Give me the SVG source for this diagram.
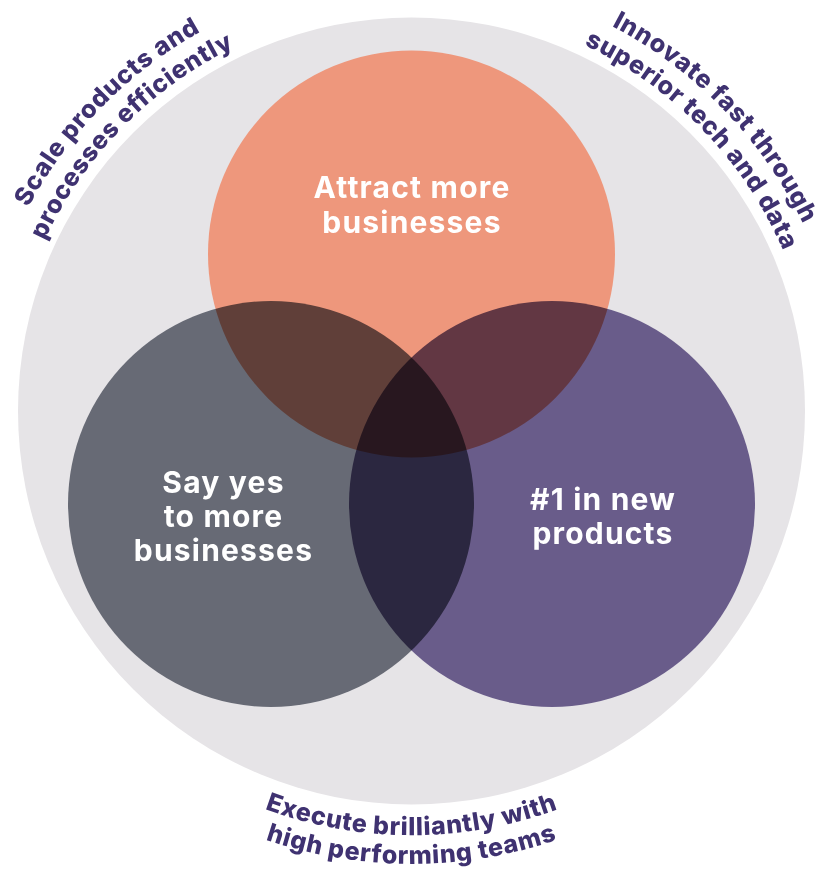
<svg xmlns="http://www.w3.org/2000/svg" xmlns:xlink="http://www.w3.org/1999/xlink" width="822" height="872" viewBox="0 0 822 872">
  <style>
    .ring-label { font-family: Inter, "Liberation Sans", sans-serif; font-weight: 800; font-size: 25px; letter-spacing: 0.7px; fill: #3f3271; }
    .venn-label { font-family: Inter, "Liberation Sans", sans-serif; font-weight: 700; font-size: 30px; letter-spacing: 1.2px; fill: #ffffff; text-anchor: middle; }
    .venn { mix-blend-mode: multiply; }
  </style>
  <defs>
    <!-- arcs around the outer ring, centred on the top / bottom of the ring -->
    <path id="arc-top-outer" d="M -18.3 335.2 A 437 437 0 0 1 841.3 335.2"/>
    <path id="arc-top-inner" d="M 12.7 340.7 A 405 405 0 0 1 810.3 340.7"/>
    <path id="arc-bottom-inner" d="M -6.1 484.6 A 424 424 0 0 0 829.1 484.6"/>
    <path id="arc-bottom-outer" d="M -34.6 489.6 A 453 453 0 0 0 857.6 489.6"/>
  </defs>

  <rect width="822" height="872" fill="#ffffff"/>

  <!-- outer ring -->
  <g id="ring">
    <circle cx="411.5" cy="411" r="393.5" fill="#e6e4e7"/>
  </g>

  <!-- three overlapping circles, blended together -->
  <g id="venn" style="isolation:isolate">
    <g id="node-attract">
      <circle class="venn" cx="411.5" cy="254" r="203.5" fill="#ee977c"/>
    </g>
    <g id="node-say-yes">
      <circle class="venn" cx="271" cy="504" r="203" fill="#676a75"/>
    </g>
    <g id="node-new-products">
      <circle class="venn" cx="552" cy="504" r="203" fill="#695c8a"/>
    </g>
  </g>

  <g id="venn-labels">
    <text class="venn-label" x="412" y="198">Attract more</text>
    <text class="venn-label" x="412" y="232.5">businesses</text>
    <text class="venn-label" x="223.5" y="492.5">Say yes</text>
    <text class="venn-label" x="223.5" y="526.5">to more</text>
    <text class="venn-label" x="223.5" y="561">businesses</text>
    <text class="venn-label" x="603" y="510">#1 in new</text>
    <text class="venn-label" x="603" y="543.5">products</text>
  </g>

  <!-- labels running around the ring -->
  <g id="ring-labels">
    <text class="ring-label" text-anchor="middle" transform="rotate(-45.5 411.5 411)"><textPath xlink:href="#arc-top-outer" href="#arc-top-outer" startOffset="50%">Scale products and</textPath></text>
    <text class="ring-label" text-anchor="middle" transform="rotate(-45.5 411.5 411)"><textPath xlink:href="#arc-top-inner" href="#arc-top-inner" startOffset="50%">processes efficiently</textPath></text>
    <text class="ring-label" text-anchor="middle" transform="rotate(46 411.5 411)"><textPath xlink:href="#arc-top-outer" href="#arc-top-outer" startOffset="50%">Innovate fast through</textPath></text>
    <text class="ring-label" text-anchor="middle" transform="rotate(46 411.5 411)"><textPath xlink:href="#arc-top-inner" href="#arc-top-inner" startOffset="50%">superior tech and data</textPath></text>
    <text class="ring-label" text-anchor="middle"><textPath xlink:href="#arc-bottom-inner" href="#arc-bottom-inner" startOffset="50%">Execute brilliantly with</textPath></text>
    <text class="ring-label" text-anchor="middle"><textPath xlink:href="#arc-bottom-outer" href="#arc-bottom-outer" startOffset="50%">high performing teams</textPath></text>
  </g>
</svg>
